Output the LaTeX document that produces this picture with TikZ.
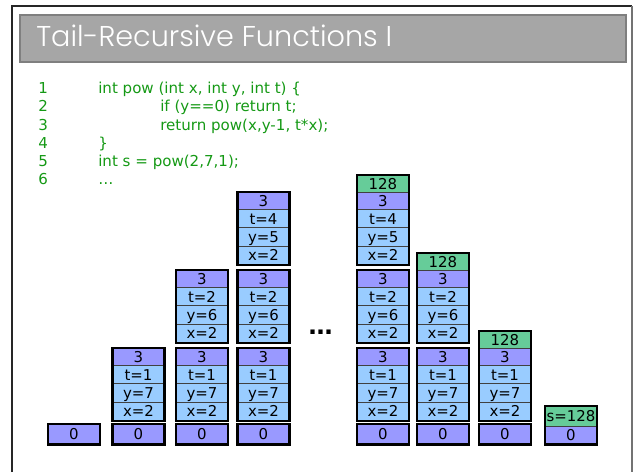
\documentclass[tikz,border=0pt]{standalone}
\usepackage{fontspec}
\setmainfont{DejaVu Sans}
\newfontfamily\codefont{DejaVu Sans}
\newfontfamily\titlefont{Poppins Light}
\definecolor{purp}{HTML}{9999FF}
\definecolor{lblue}{HTML}{99CCFF}
\definecolor{mgreen}{HTML}{66CC99}
\definecolor{codegreen}{HTML}{159915}
\definecolor{titlegray}{HTML}{A6A6A6}
\definecolor{titleedge}{HTML}{7F7F7F}
\definecolor{cellline}{HTML}{404040}
\newcommand\mkcell[6]{\node[cellbox,fill=#5,minimum height=#4*0.75pt,anchor=north west] (#1) at (#2,#3) {#6};}
\newcommand\stk[5]{%
  \mkcell{#1a}{#2}{#3}{17}{purp}{3}
  \mkcell{#1b}{#2}{#3+17}{18.33}{lblue}{t=#4}
  \mkcell{#1c}{#2}{#3+35.33}{18.33}{lblue}{y=#5}
  \mkcell{#1d}{#2}{#3+53.66}{18.34}{lblue}{x=2}
}
\newcommand\zbox[2]{%
  \mkcell{#1}{#2}{424}{19.5}{purp}{0}
  \draw[outerb] (#1.north west) rectangle (#1.south east);
}
\begin{document}
\begin{tikzpicture}[x=0.75pt,y=-0.75pt,
  cellbox/.style={draw=cellline,line width=0.7pt,inner sep=0pt,minimum width=51*0.75pt,
     font=\fontsize{11.2}{13}\selectfont,text height=8.1pt,text depth=0pt},
  outerb/.style={draw=black,line width=1.9pt},
  codeline/.style={anchor=base west,inner sep=0pt,text=codegreen,font=\codefont\fontsize{11.3}{13}\selectfont}]
\useasboundingbox (0,0) rectangle (638,472);
% frame
\draw[black!85,line width=0.9pt] (12,472) -- (12,6) -- (632,6);
\draw[black!55,line width=0.9pt] (632,6) -- (632,472);
% title bar
\draw[fill=titlegray,draw=titleedge,line width=1.3pt] (20,15) rectangle (626,62);
\node[anchor=base west,inner sep=0pt,text=white,font=\titlefont\fontsize{21.5}{24}\selectfont] (title) at (36,46.7) {Tail-Recursive Functions I};
% code
\foreach \n [count=\i from 0] in {1,...,6} {\node[codeline] (ln\n) at (38,93.8+18.15*\i) {\n};}
\node[codeline] (c1) at (98,93.8) {int pow (int x, int y, int t) \{};
\node[codeline] (c2) at (160,111.95) {if (y==0) return t;};
\node[codeline] (c3) at (160,130.1) {return pow(x,y-1, t*x);};
\node[codeline] (c4) at (98,148.25) {\}};
\node[codeline] (c5) at (98,166.4) {int s = pow(2,7,1);};
\node[codeline] (c6) at (98,184.55) {\dots};
% zero boxes
\zbox{z1}{48}
\zbox{z2}{112.5}
\zbox{z3}{176}
\zbox{z4}{237.5}
\zbox{z5}{357}
\zbox{z6}{417}
\zbox{z7}{479}
% column 2
\stk{p2}{112.5}{348}{1}{7}
\draw[outerb] (p2a.north west) rectangle (p2d.south east);
% column 3
\stk{p3}{176}{348}{1}{7}
\draw[outerb] (p3a.north west) rectangle (p3d.south east);
\stk{q3}{176}{270}{2}{6}
\draw[outerb] (q3a.north west) rectangle (q3d.south east);
% column 4
\stk{p4}{237.5}{348}{1}{7}
\draw[outerb] (p4a.north west) rectangle (p4d.south east);
\stk{q4}{237.5}{270}{2}{6}
\draw[outerb] (q4a.north west) rectangle (q4d.south east);
\stk{r4}{237.5}{192}{4}{5}
\draw[outerb] (r4a.north west) rectangle (r4d.south east);
% ellipsis
\node[inner sep=0pt,font=\bfseries\fontsize{18}{20}\selectfont] (dots) at (320.5,332) {\char"2026};
% column 5
\stk{p5}{357}{348}{1}{7}
\draw[outerb] (p5a.north west) rectangle (p5d.south east);
\stk{q5}{357}{270}{2}{6}
\draw[outerb] (q5a.north west) rectangle (q5d.south east);
\stk{r5}{357}{192}{4}{5}
\mkcell{r5g}{357}{175}{17}{mgreen}{128}
\draw[outerb] (r5g.north west) rectangle (r5d.south east);
% column 6
\stk{p6}{417}{348}{1}{7}
\draw[outerb] (p6a.north west) rectangle (p6d.south east);
\stk{q6}{417}{270}{2}{6}
\mkcell{q6g}{417}{253}{17}{mgreen}{128}
\draw[outerb] (q6g.north west) rectangle (q6d.south east);
% column 7
\stk{p7}{479}{348}{1}{7}
\mkcell{p7g}{479}{331}{17}{mgreen}{128}
\draw[outerb] (p7g.north west) rectangle (p7d.south east);
% column 8
\mkcell{s8}{545}{406}{20}{mgreen}{s=128}
\mkcell{z8}{545}{426}{17.5}{purp}{0}
\draw[outerb] (s8.north west) rectangle (z8.south east);
\end{tikzpicture}
\end{document}
